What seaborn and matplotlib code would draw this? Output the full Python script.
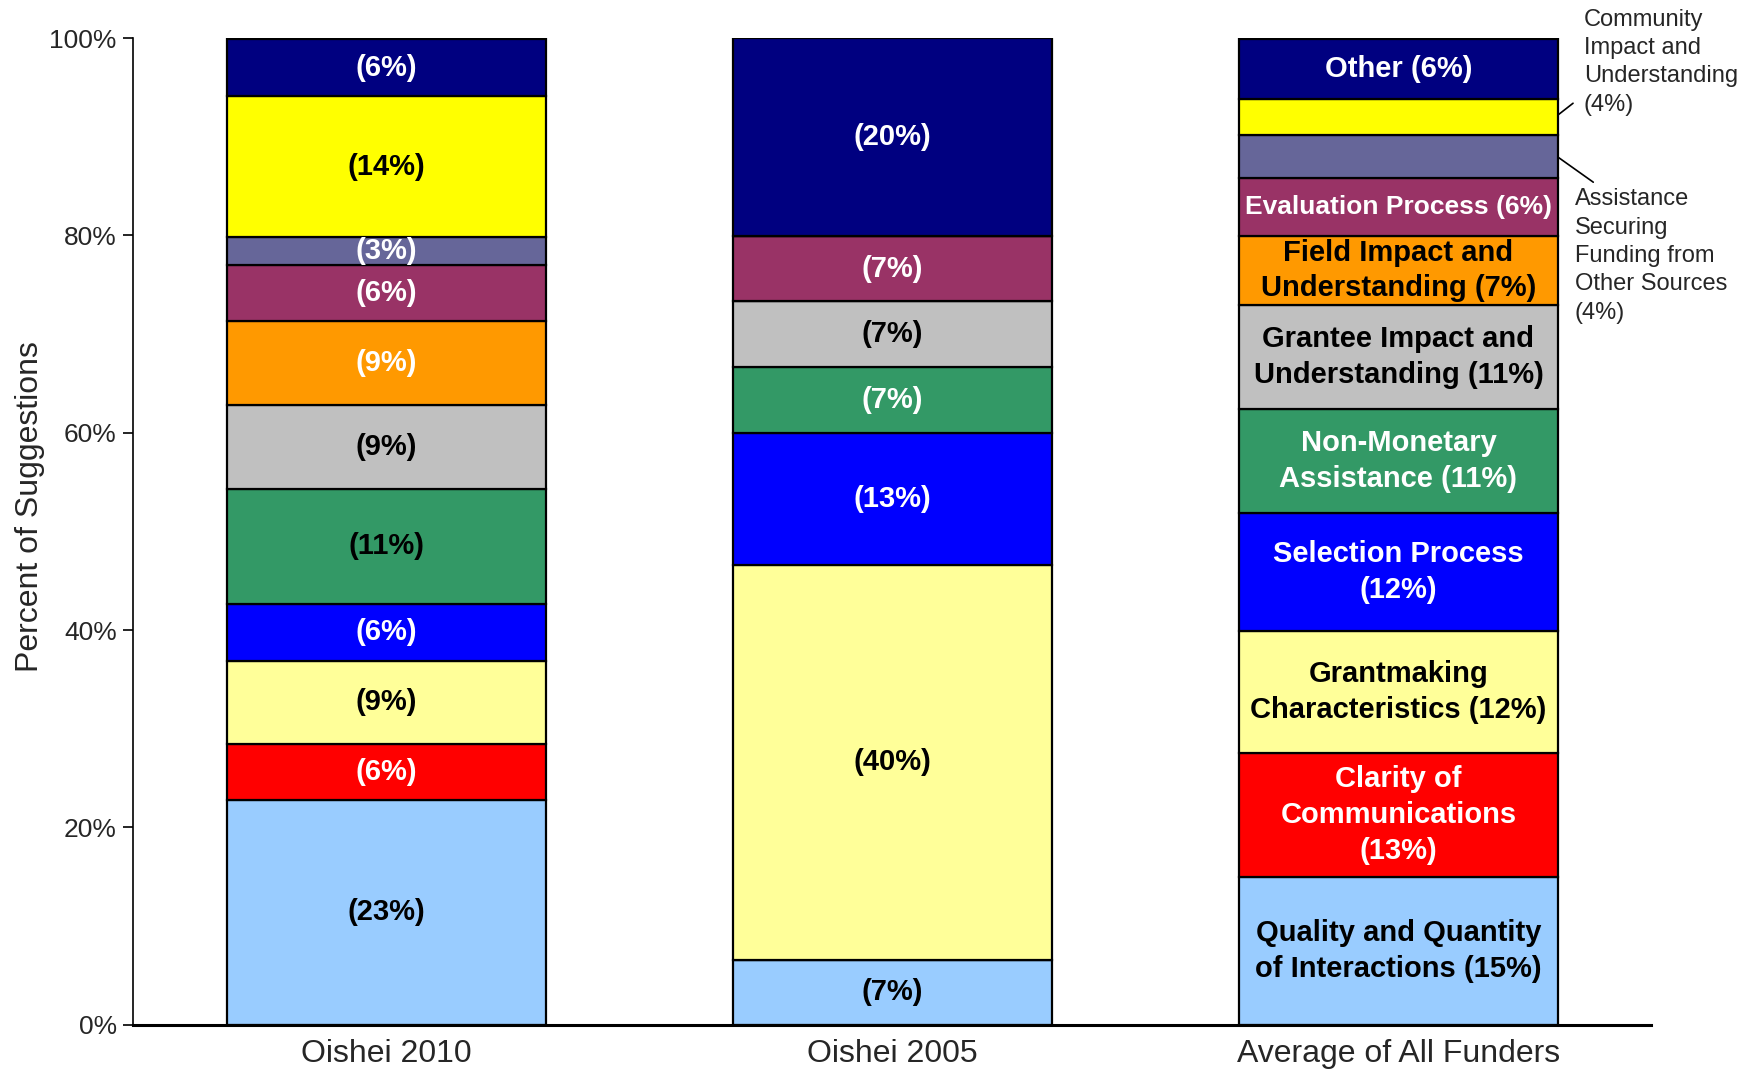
import numpy as np
import pandas as pd
import matplotlib
matplotlib.use("Agg")
import matplotlib.pyplot as plt
import seaborn as sns

# Data (percent of suggestions, bottom layer first)
groups = ["Oishei 2010", "Oishei 2005", "Average of All Funders"]
categories = [
    "Quality and Quantity of Interactions",
    "Clarity of Communications",
    "Grantmaking Characteristics",
    "Selection Process",
    "Non-Monetary Assistance",
    "Grantee Impact and Understanding",
    "Field Impact and Understanding",
    "Evaluation Process",
    "Assistance Securing Funding from Other Sources",
    "Community Impact and Understanding",
    "Other",
]
quality = [22.8, 6.6, 15.0]
clarity = [5.7, 0.0, 12.5]
grantmaking = [8.4, 40.0, 12.4]
selection = [5.8, 13.4, 12.0]
nonmonetary = [11.6, 6.7, 10.5]
grantee = [8.5, 6.7, 10.6]
field = [8.5, 0.0, 6.9]
evaluation = [5.7, 6.5, 5.9]
assistance = [2.8, 0.0, 4.4]
community = [14.3, 0.0, 3.6]
other = [5.8, 20.1, 6.1]

labels_2010 = ["(23%)", "(6%)", "(9%)", "(6%)", "(11%)", "(9%)", "(9%)", "(6%)", "(3%)", "(14%)", "(6%)"]
labels_2005 = ["(7%)", "", "(40%)", "(13%)", "(7%)", "(7%)", "", "(7%)", "", "", "(20%)"]
labels_avg = ["Quality and Quantity\nof Interactions (15%)", "Clarity of\nCommunications\n(13%)",
              "Grantmaking\nCharacteristics (12%)", "Selection Process\n(12%)",
              "Non-Monetary\nAssistance (11%)", "Grantee Impact and\nUnderstanding (11%)",
              "Field Impact and\nUnderstanding (7%)", "Evaluation Process (6%)", "", "", "Other (6%)"]
callout_community = "Community\nImpact and\nUnderstanding\n(4%)"
callout_assistance = "Assistance\nSecuring\nFunding from\nOther Sources\n(4%)"

colors = ["#99CCFF", "#FF0000", "#FFFF99", "#0000FF", "#339966", "#C0C0C0",
          "#FF9900", "#993366", "#666699", "#FFFF00", "#000080"]
text_colors = [
    ["black", "black", "black"],
    ["white", "white", "white"],
    ["black", "black", "black"],
    ["white", "white", "white"],
    ["black", "white", "white"],
    ["black", "black", "black"],
    ["white", "black", "black"],
    ["white", "white", "white"],
    ["white", "white", "white"],
    ["black", "black", "black"],
    ["white", "white", "white"],
]

series = [quality, clarity, grantmaking, selection, nonmonetary, grantee,
          field, evaluation, assistance, community, other]
labels = [list(t) for t in zip(labels_2010, labels_2005, labels_avg)]

sns.set_theme(style="white")
plt.rcParams["font.family"] = ["Liberation Sans", "DejaVu Sans"]

fig, ax = plt.subplots(figsize=(17.58, 10.71), dpi=100)
fig.subplots_adjust(left=0.0759, right=0.9394, bottom=0.0431, top=0.9644)

bottom = np.zeros(len(groups))
for cat, vals, col in zip(categories, series, colors):
    df = pd.DataFrame({"group": groups, "value": vals})
    sns.barplot(data=df, x="group", y="value", order=groups, color=col,
                saturation=1, width=0.63, bottom=bottom.copy(),
                edgecolor="black", linewidth=1.6, ax=ax, errorbar=None)
    bottom += np.array(vals)

# segment labels
bottom = np.zeros(len(groups))
for i, vals in enumerate(series):
    for j, v in enumerate(vals):
        txt = labels[i][j]
        if txt and v > 0:
            fs = 19 if txt.startswith("Evaluation") else 21
            ax.text(j, bottom[j] + v / 2, txt, ha="center", va="center",
                    fontsize=fs, fontweight="bold", color=text_colors[i][j],
                    linespacing=1.35)
    bottom += np.array(vals)

# callouts for the thin segments of the average bar
ax.annotate("", xy=(2.315, 92.2), xytext=(2.345, 93.4), annotation_clip=False,
            arrowprops=dict(arrowstyle="-", color="black", lw=1.2, shrinkA=0, shrinkB=0))
ax.annotate("", xy=(2.315, 87.95), xytext=(2.385, 85.4), annotation_clip=False,
            arrowprops=dict(arrowstyle="-", color="black", lw=1.2, shrinkA=0, shrinkB=0))
ax.text(2.366, 103.0, callout_community, fontsize=17, ha="left", va="top",
        linespacing=1.38, clip_on=False)
ax.text(2.348, 84.8, callout_assistance, fontsize=17, ha="left", va="top",
        linespacing=1.38, clip_on=False)

ax.set_xlim(-0.5, 2.5)
ax.set_ylim(0, 100)
ax.set_yticks(range(0, 101, 20))
ax.set_yticklabels([f"{t}%" for t in range(0, 101, 20)], fontsize=19)
ax.set_xticks(range(len(groups)))
ax.set_xticklabels(groups, fontsize=23)
ax.set_xticks([-0.5, 0.5, 1.5, 2.5], minor=True)
ax.tick_params(axis="x", which="major", length=0, pad=10)
ax.tick_params(axis="x", which="minor", length=11, width=1.2, color="black", direction="out")
ax.tick_params(axis="y", length=7, width=1.2, color="black", direction="out", left=True, pad=5)
ax.set_xlabel("")
ax.set_ylabel("Percent of Suggestions", fontsize=23)
ax.yaxis.set_label_coords(-0.058, 0.525)

for s in ["top", "right"]:
    ax.spines[s].set_visible(False)
ax.spines["left"].set_color("black")
ax.spines["left"].set_linewidth(1.2)
ax.spines["bottom"].set_color("black")
ax.spines["bottom"].set_linewidth(2.2)

fig.savefig("out.png", dpi=100, facecolor="white")
